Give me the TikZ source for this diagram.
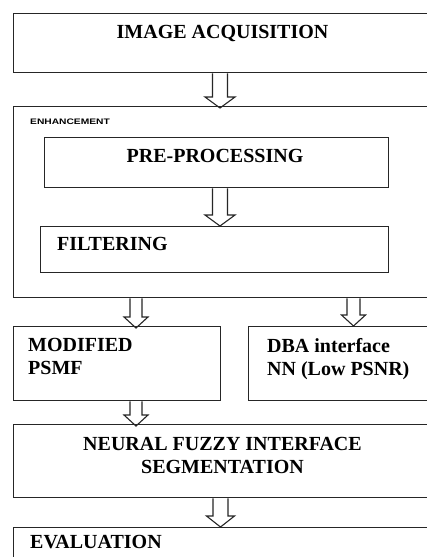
\documentclass[tikz,border=0pt]{standalone}
\usepackage{fontspec}
\usepackage{graphicx}
\setmainfont{Liberation Serif}
\newfontfamily\arialfont{Liberation Sans}
\usetikzlibrary{calc}
\tikzset{
  box/.style={draw=black!85, line width=1.4pt, anchor=north west, inner sep=0pt},
  lbl/.style={font=\fontsize{20}{23}\selectfont\bfseries, inner sep=0pt, anchor=base west},
  lblc/.style={lbl, anchor=base},
  harrowline/.style={draw=black!85, line width=1.1pt, line join=miter},
}
% #1 half shaft, #2 half head, #3 start, #4 tip
\newcommand\harrow[4]{\draw[harrowline] let \p1=#3, \p2=#4 in
  (\x1-#1pt,\y1) -- (\x1-#1pt,\y2+11pt) -- (\x1-#2pt,\y2+11pt) -- (\x1,\y2)
  -- (\x1+#2pt,\y2+11pt) -- (\x1+#1pt,\y2+11pt) -- (\x1+#1pt,\y1);}
\begin{document}
\begin{tikzpicture}[x=1pt,y=-1pt]
\useasboundingbox (0,0) rectangle (427,557);
\clip (0,0) rectangle (427,557);
\fill[white] (0,0) rectangle (427,557);
% boxes
\node[box, minimum width=416pt, minimum height=59pt] (acq) at (13,13) {};
\node[box, minimum width=416pt, minimum height=191pt] (enh) at (13,106) {};
\node[box, minimum width=344pt, minimum height=50pt] (pre) at (44,137) {};
\node[box, minimum width=348pt, minimum height=46pt] (fil) at (40,226) {};
\node[box, minimum width=207pt, minimum height=74pt] (psmf) at (13,326) {};
\node[box, minimum width=181pt, minimum height=74pt] (dba) at (248,326) {};
\node[box, minimum width=416pt, minimum height=73pt] (nfs) at (13,424) {};
\node[box, minimum width=416pt, minimum height=43pt] (eval) at (13,527) {};
% texts
\node[lblc] (tacq) at (222.5,38) {IMAGE ACQUISITION};
\node[inner sep=0pt, anchor=base west, font=\arialfont\fontsize{8}{9}\selectfont\bfseries] (tenh) at (30,124) {\scalebox{1.28}[1]{ENHANCEMENT}};
\node[lblc] (tpre) at (215,162) {PRE-PROCESSING};
\node[lbl] (tfil) at (57,250) {FILTERING};
\node[lbl, align=left, anchor=north west] (tpsmf) at (28,338) {MODIFIED\\PSMF};
\node[lbl, align=left, anchor=north west] (tdba) at (267,338) {DBA interface\\NN (Low PSNR)};
\node[lbl, align=center, anchor=north] (tnfs) at (222.5,437) {NEURAL FUZZY INTERFACE\\SEGMENTATION};
\node[lbl] (teval) at (30,548) {EVALUATION};
% arrows
\coordinate (xa) at (220,0);
\coordinate (xb) at (136,0);
\coordinate (xc) at (353.5,0);
\coordinate (xd) at (220.5,0);
\harrow{7.5}{15}{(acq.south -| xa)}{($(enh.north -| xa)+(0,2)$)}
\harrow{7.5}{15}{(pre.south -| xa)}{(fil.north -| xa)}
\harrow{6}{12}{(enh.south -| xb)}{($(psmf.north -| xb)+(0,2)$)}
\harrow{6.5}{12}{(enh.south -| xc)}{(dba.north -| xc)}
\harrow{6}{12}{(psmf.south -| xb)}{($(nfs.north -| xb)+(0,2)$)}
\harrow{7.5}{14}{(nfs.south -| xd)}{(eval.north -| xd)}
\end{tikzpicture}
\end{document}
